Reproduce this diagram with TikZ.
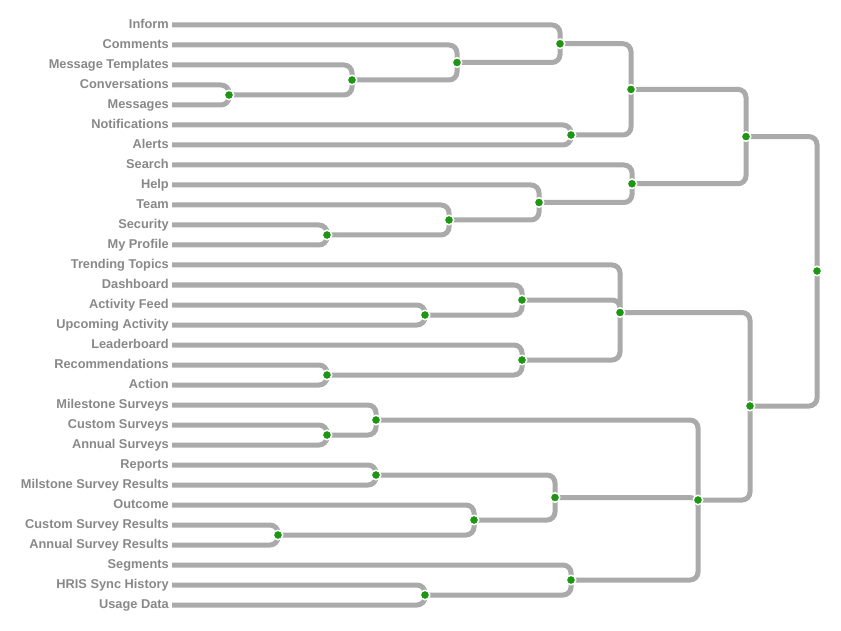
\documentclass[tikz,border=0pt]{standalone}
\usepackage{fontspec}
\setmainfont{Liberation Sans}
\definecolor{linkgray}{HTML}{AAAAAA}
\definecolor{labelgray}{HTML}{888888}
\definecolor{dotgreen}{RGB}{30,150,20}
\begin{document}
\begin{tikzpicture}[x=1pt,y=-1pt,
  link/.style={draw=linkgray, line width=5pt, rounded corners=8pt},
  dot/.style={circle, fill=dotgreen, draw=white, line width=1.5pt, minimum size=9.5pt, inner sep=0pt},
  lbl/.style={anchor=base east, text=labelgray, font=\bfseries\fontsize{12.8}{14}\selectfont, inner sep=0pt}]
\useasboundingbox (0,0) rectangle (841,631);
% leaves
\foreach \i/\t in {0/Inform,1/Comments,2/Message Templates,3/Conversations,4/Messages,5/Notifications,6/Alerts,7/Search,8/Help,9/Team,10/Security,11/My Profile,12/Trending Topics,13/Dashboard,14/Activity Feed,15/Upcoming Activity,16/Leaderboard,17/Recommendations,18/Action,19/Milestone Surveys,20/Custom Surveys,21/Annual Surveys,22/Reports,23/Milstone Survey Results,24/Outcome,25/Custom Survey Results,26/Annual Survey Results,27/Segments,28/HRIS Sync History,29/Usage Data}{
  \node[lbl] (l\i) at (169,{28.5+20*\i}) {\t};
  \coordinate (c\i) at (172,{25+20*\i});
}
% internal nodes
\coordinate (A) at (229,95);
\coordinate (B) at (352,80);
\coordinate (C) at (457,62.5);
\coordinate (D) at (560,43.75);
\coordinate (E) at (571,135);
\coordinate (F) at (631,89.4);
\coordinate (G) at (327,235);
\coordinate (H) at (449,220);
\coordinate (I) at (539,202.5);
\coordinate (J) at (632,183.75);
\coordinate (K) at (746,136.6);
\coordinate (L) at (425,315);
\coordinate (M) at (522,300);
\coordinate (N) at (327,375);
\coordinate (O) at (522,360);
\coordinate (P) at (620,312.5);
\coordinate (Q) at (327,435);
\coordinate (R) at (376,420);
\coordinate (S) at (376,475);
\coordinate (T) at (278,535);
\coordinate (U) at (474,520);
\coordinate (V) at (555,497.5);
\coordinate (W) at (425,595);
\coordinate (X) at (571,580);
\coordinate (Y) at (698,500);
\coordinate (Z) at (750,406);
\coordinate (Root) at (817,271);
% links
\foreach \a/\b in {c3/A,c4/A,c2/B,A/B,c1/C,B/C,c0/D,C/D,c5/E,c6/E,D/F,E/F,
  c10/G,c11/G,c9/H,G/H,c8/I,H/I,c7/J,I/J,F/K,J/K,
  c14/L,c15/L,c13/M,L/M,c17/N,c18/N,c16/O,N/O,c12/P,M/P,O/P,
  c20/Q,c21/Q,c19/R,Q/R,c22/S,c23/S,c25/T,c26/T,c24/U,T/U,S/V,U/V,
  c28/W,c29/W,c27/X,W/X,R/Y,V/Y,X/Y,P/Z,Y/Z,K/Root,Z/Root}{
  \draw[link] (\a) -| (\b);
}
% dots
\foreach \n in {A,B,C,D,E,F,G,H,I,J,K,L,M,N,O,P,Q,R,S,T,U,V,W,X,Y,Z,Root}{
  \node[dot] (d\n) at (\n) {};
}
\end{tikzpicture}
\end{document}
